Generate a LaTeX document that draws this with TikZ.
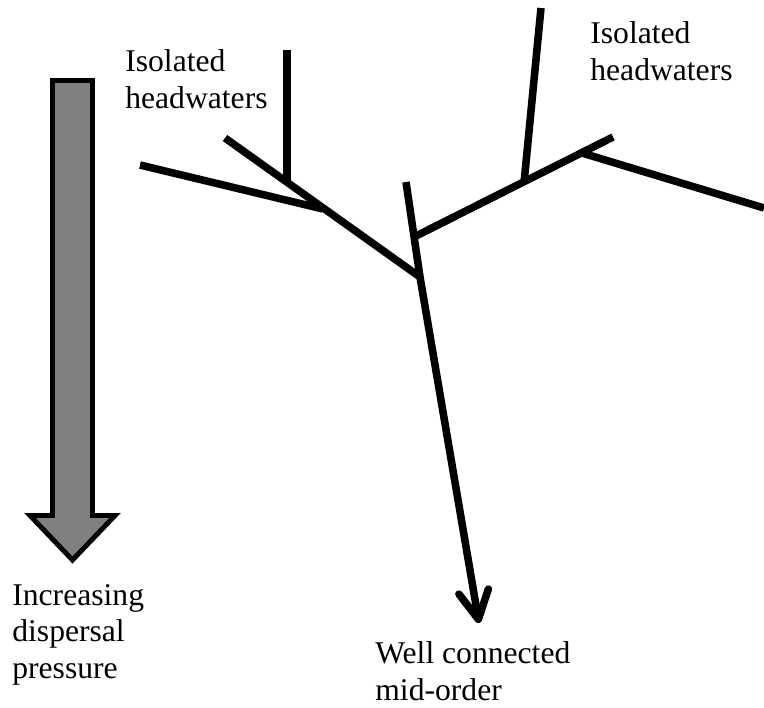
\documentclass[tikz,border=0pt]{standalone}
\usepackage{fontspec}
\setmainfont{Liberation Serif}
\usetikzlibrary{arrows.meta}
\tikzset{
  stream/.style={line width=4.3pt},
  outlet/.style={line width=4.3pt, line cap=round, -{Straight Barb[length=16pt, width=17pt, round]}},
  pressarrow/.style={line width=2.8pt, fill=gray, line join=miter},
  lbl/.style={anchor=base west, align=left, inner sep=0pt, font=\fontsize{18}{20.7}\selectfont},
}
\begin{document}
\begin{tikzpicture}[x=0.02cm,y=-0.02cm]
\useasboundingbox (0,0) rectangle (764,707);

% gray arrow
\draw[pressarrow] (52.5,80.5) -- (92.5,80.5) -- (92.5,515.5) -- (115,515.5) -- (72.5,560) -- (30,515.5) -- (52.5,515.5) -- cycle;

% river network
\coordinate (lt1) at (140,165);
\coordinate (lt2) at (225,138);
\coordinate (lt3) at (287,50);
\coordinate (j1) at (323,209);
\coordinate (j2) at (287,181);
\coordinate (ct) at (406,182);
\coordinate (j3) at (414,237);
\coordinate (j0) at (420,277);
\coordinate (j4) at (524,183);
\coordinate (rt1) at (541,8);
\coordinate (j5) at (582,153);
\coordinate (rt) at (613,137);
\coordinate (rt2) at (764,208);
\coordinate (out) at (479,623);

\draw[stream] (lt1) -- (j1);
\draw[stream] (lt2) -- (j0);
\draw[stream] (lt3) -- (j2);
\draw[stream] (ct) -- (j0);
\draw[stream] (j3) -- (rt);
\draw[stream] (rt1) -- (j4);
\draw[stream] (j5) -- (rt2);
\draw[outlet] (j0) -- (out);

% labels (anchor is baseline of last line)
\node[lbl] (iso1) at (125,108) {Isolated\\headwaters};
\node[lbl] (iso2) at (590,80) {Isolated\\headwaters};
\node[lbl] (press) at (12,678) {Increasing\\dispersal\\pressure};
\node[lbl] (mid) at (375,700) {Well connected\\mid-order};
\end{tikzpicture}
\end{document}
